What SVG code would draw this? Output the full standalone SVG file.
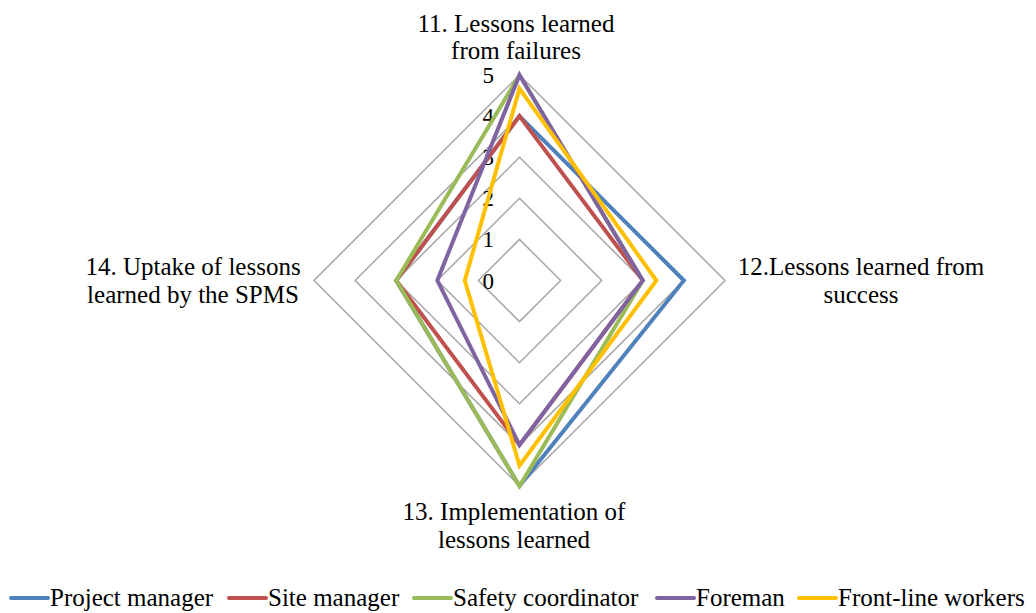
<svg xmlns="http://www.w3.org/2000/svg" width="1036" height="613" viewBox="0 0 1036 613">
  <style>
    .grid { fill: none; stroke: #A6A6A6; stroke-width: 1.5; }
    .series { fill: none; stroke-width: 4; stroke-linejoin: miter; stroke-miterlimit: 10; }
    .lbl { font-size: 25px; fill: #000; }
    .tick { font-size: 23px; fill: #000; text-anchor: end; }
    .key { stroke-width: 4; stroke-linecap: round; }
    .pm { stroke: #4F81BD; }
    .sm { stroke: #C0504D; }
    .sc { stroke: #9BBB59; }
    .fm { stroke: #8064A2; }
    .fw { stroke: #FFC000; }
  </style>
  <rect width="1036" height="613" fill="#FFFFFF"/>

  <!-- radar grid: levels 1..5, centre (519.5, 280.5), 41.1 px per unit -->
  <g id="grid">
    <polygon class="grid" points="519.5,239.4 560.6,280.5 519.5,321.6 478.4,280.5"/>
    <polygon class="grid" points="519.5,198.3 601.7,280.5 519.5,362.7 437.3,280.5"/>
    <polygon class="grid" points="519.5,157.2 642.8,280.5 519.5,403.8 396.2,280.5"/>
    <polygon class="grid" points="519.5,116.1 683.9,280.5 519.5,444.9 355.1,280.5"/>
    <polygon class="grid" points="519.5,75 725,280.5 519.5,486 314,280.5"/>
  </g>

  <g font-family="Liberation Serif, Times New Roman, Times, serif">
    <!-- value scale -->
    <g id="scale">
      <text class="tick" x="494" y="288.5">0</text>
      <text class="tick" x="494" y="247.4">1</text>
      <text class="tick" x="494" y="206.3">2</text>
      <text class="tick" x="494" y="165.2">3</text>
      <text class="tick" x="494" y="124.1">4</text>
      <text class="tick" x="494" y="83">5</text>
    </g>
  </g>

  <!-- series -->
  <g id="series">
    <polygon id="project-manager" class="series pm" points="519.5,116.1 683.9,280.5 519.5,486 396.2,280.5"/>
    <polygon id="site-manager" class="series sm" points="519.5,116.1 642.8,280.5 519.5,444.9 396.2,280.5"/>
    <polygon id="safety-coordinator" class="series sc" points="519.5,75 642.8,280.5 519.5,486 396.2,280.5"/>
    <polygon id="foreman" class="series fm" points="519.5,75 642.8,280.5 519.5,444.9 437.3,280.5"/>
    <polygon id="front-line-workers" class="series fw" points="519.5,88.6 656.4,280.5 519.5,465.5 464.8,280.5"/>
  </g>

  <g font-family="Liberation Serif, Times New Roman, Times, serif">
    <!-- axis labels -->
    <g id="axis-11">
      <text class="lbl" x="516" y="32" text-anchor="middle">11. Lessons learned</text>
      <text class="lbl" x="516" y="59" text-anchor="middle">from failures</text>
    </g>
    <g id="axis-12">
      <text class="lbl" x="861" y="275" text-anchor="middle">12.Lessons learned from</text>
      <text class="lbl" x="861" y="303" text-anchor="middle">success</text>
    </g>
    <g id="axis-13">
      <text class="lbl" x="514" y="520" text-anchor="middle">13. Implementation of</text>
      <text class="lbl" x="514" y="548" text-anchor="middle">lessons learned</text>
    </g>
    <g id="axis-14">
      <text class="lbl" x="193" y="275" text-anchor="middle">14. Uptake of lessons</text>
      <text class="lbl" x="193" y="303" text-anchor="middle">learned by the SPMS</text>
    </g>

    <!-- legend -->
    <g id="legend">
      <line class="key pm" x1="11" y1="598" x2="48" y2="598"/>
      <text class="lbl" x="50" y="606">Project manager</text>
      <line class="key sm" x1="229" y1="598" x2="266" y2="598"/>
      <text class="lbl" x="268" y="606">Site manager</text>
      <line class="key sc" x1="414" y1="598" x2="451" y2="598"/>
      <text class="lbl" x="453" y="606">Safety coordinator</text>
      <line class="key fm" x1="657" y1="598" x2="694" y2="598"/>
      <text class="lbl" x="696" y="606">Foreman</text>
      <line class="key fw" x1="799" y1="598" x2="836" y2="598"/>
      <text class="lbl" x="838" y="606">Front-line workers</text>
    </g>
  </g>
</svg>
